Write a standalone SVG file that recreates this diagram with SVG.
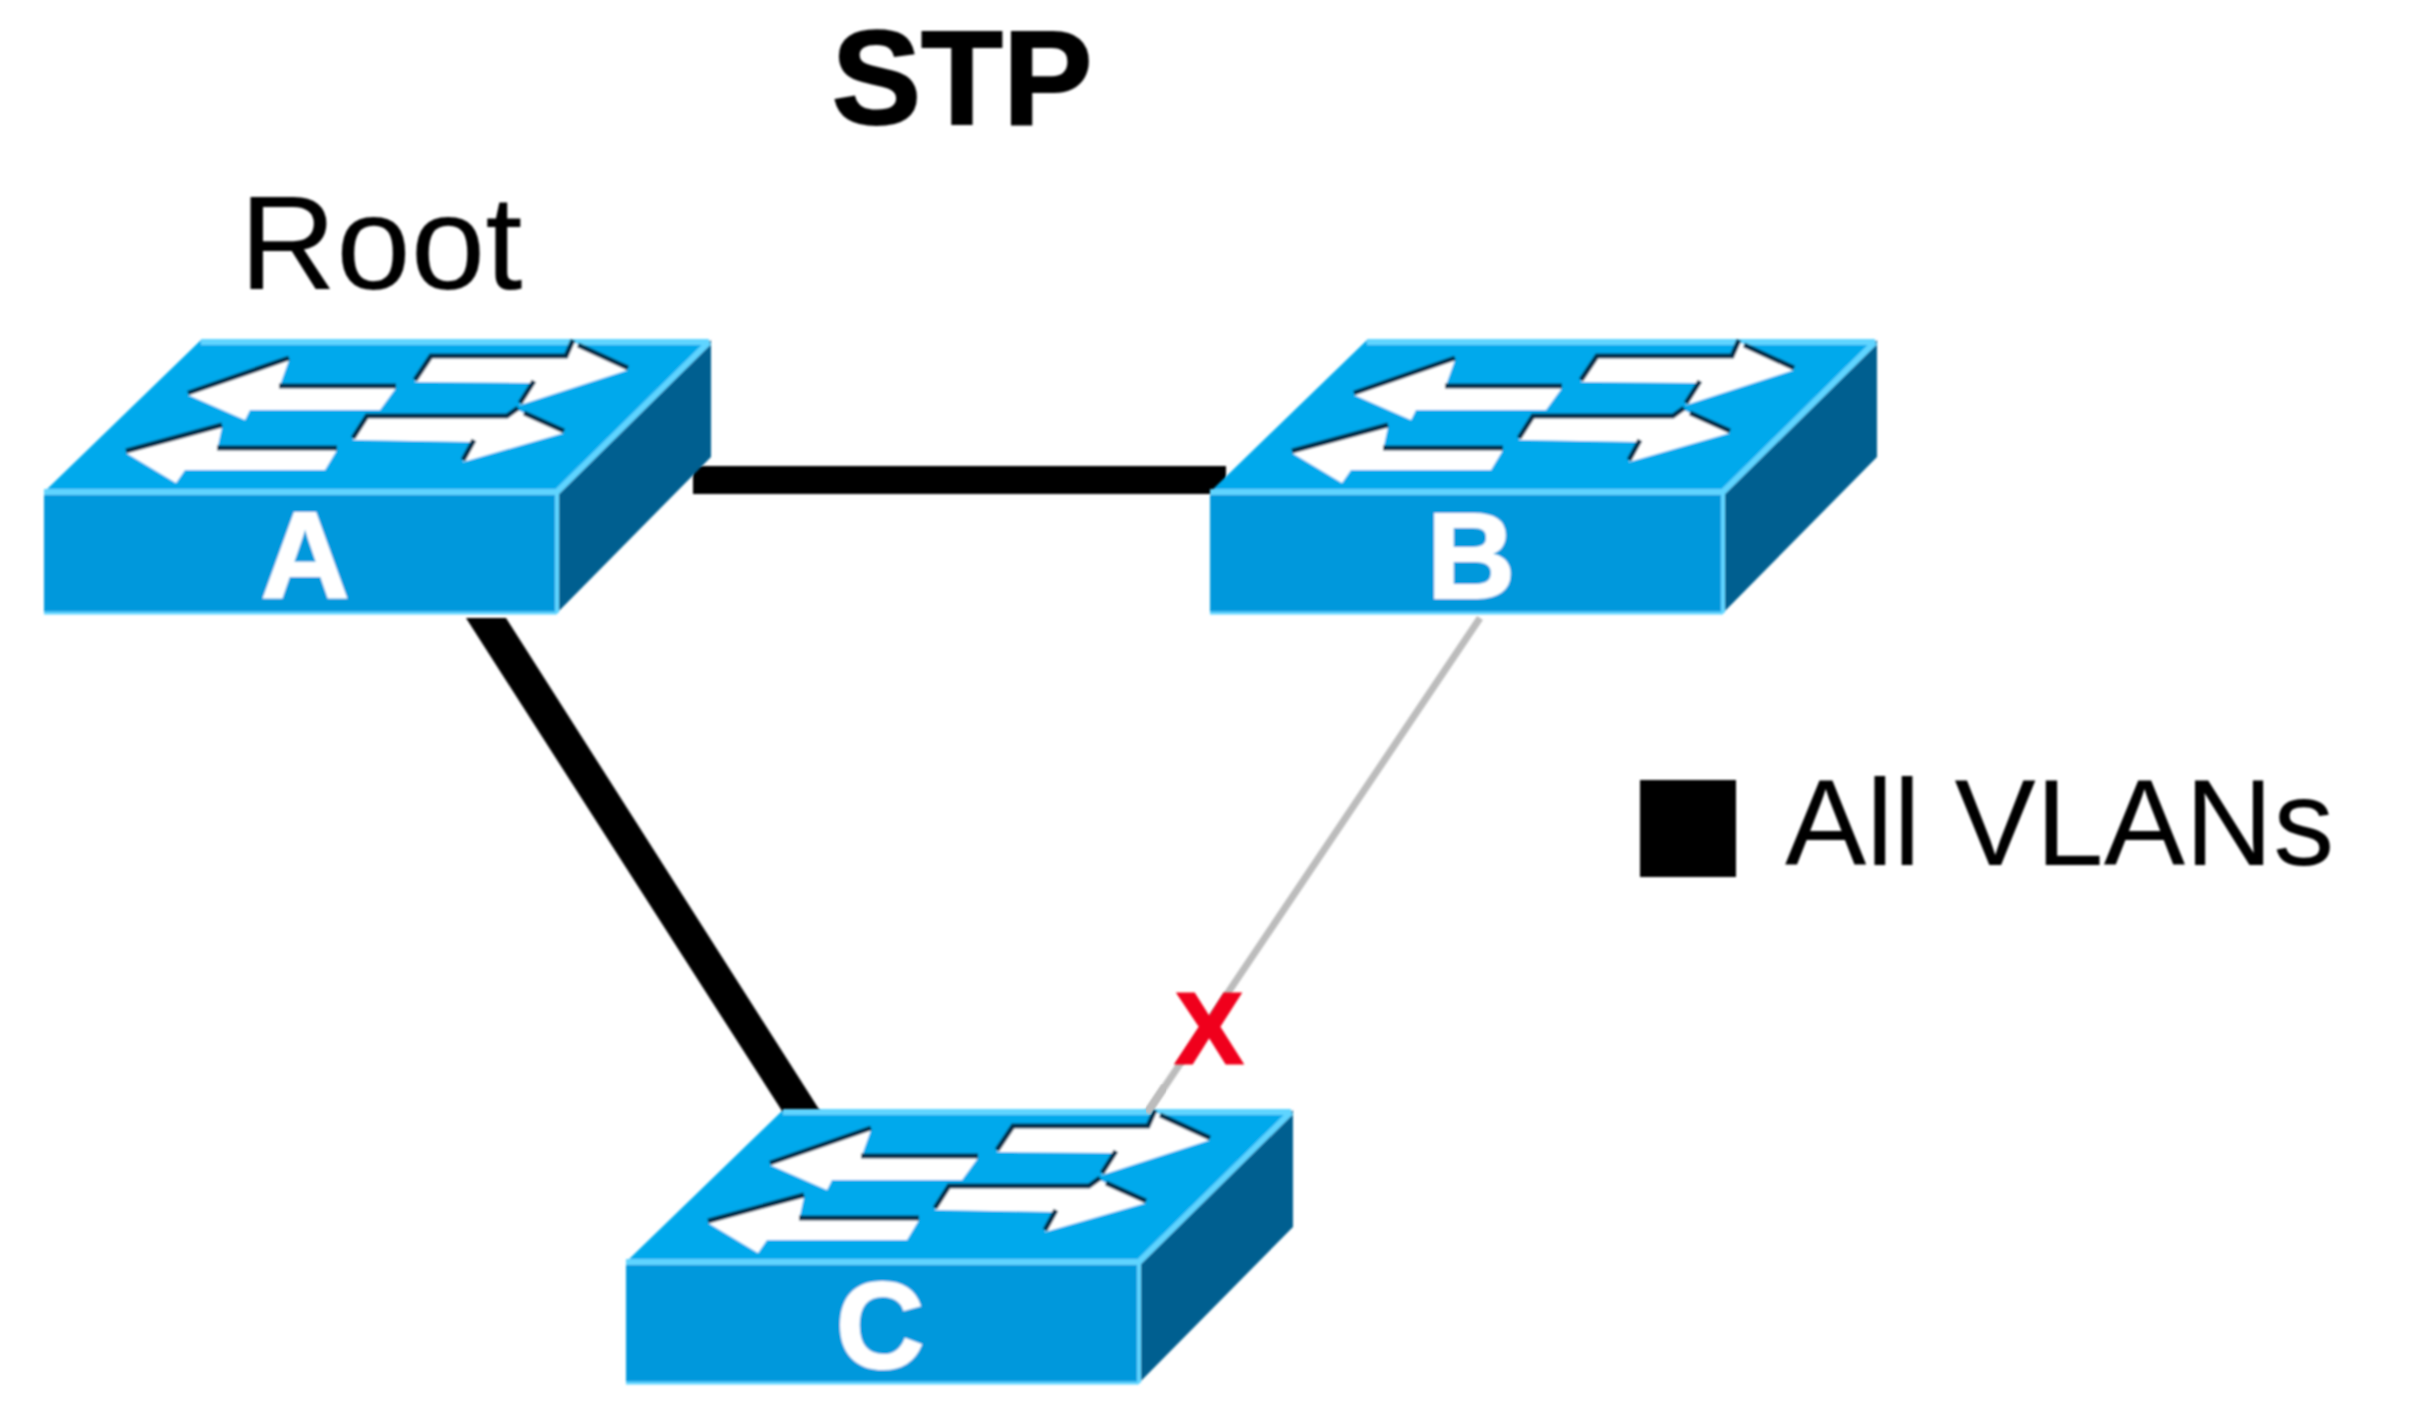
<svg xmlns="http://www.w3.org/2000/svg" width="2413" height="1402" viewBox="0 0 2413 1402">
<style>
.t{font-family:"Liberation Sans",Arial,sans-serif}
.lbl{font-family:"Liberation Sans",Arial,sans-serif;font-weight:700;font-size:122px;fill:#fff;stroke:#fff;stroke-width:2;text-anchor:middle}
.hl{fill:none;stroke:#5fd4ff;stroke-width:6}
.ar{fill:#fff}
.sh{fill:none;stroke:#04304e;stroke-width:5}
.soft{filter:url(#soft)}
</style>
<defs>
<filter id="soft" x="-5%" y="-5%" width="110%" height="110%"><feGaussianBlur stdDeviation="1.1"/></filter>
<g id="sw">
<polygon points="44,492 201,340 709,340 557,492" fill="#00a9ec"/>
<polygon points="44,492 557,492 557,613 44,613" fill="#0098dc"/>
<polygon points="557,492 711,340 711,457 557,613" fill="#005f90"/>
<polyline class="hl" points="44,492 557,492 709,342"/>
<line class="hl" x1="201" y1="342" x2="709" y2="342"/>
<line x1="557" y1="492" x2="557" y2="613" stroke="#5fd4ff" stroke-width="4"/>
<line x1="44" y1="613" x2="557" y2="613" stroke="#5fd4ff" stroke-width="3"/>
<polygon class="ar" points="188,395 289,360 279,388 396,388 380,410 250,410 245,420"/>
<polygon class="ar" points="126,453 222,427 217,450 337,450 325,470 185,470 176,483"/>
<polygon class="ar" points="431,358 566,358 573,342 628,370 520,405 534,383 415,382"/>
<polygon class="ar" points="367,418 507,418 518,410 564,433 463,462 474,442 353,440"/>
<path class="sh" d="M188,393 289,358M279,386H396M126,451 222,425M217,448H337M415,380 431,356H566L573,340M578,345 628,368M520,403 534,381M353,438 367,416H507L518,408M524,413 564,431M463,460 474,440"/>
</g>
</defs>
<rect width="2413" height="1402" fill="#fff"/>
<g id="connectors" class="soft">
<rect x="693" y="466" width="533" height="28" fill="#000"/>
<polygon points="466,618 506,618 829,1125 791,1125" fill="#000"/>
<line x1="1480" y1="618" x2="1147" y2="1113" stroke="#bcbcbc" stroke-width="7"/>
</g>
<g id="node-a" class="soft"><use href="#sw"/><text class="lbl" x="305" y="598">A</text></g>
<g id="node-b" class="soft"><use href="#sw" transform="translate(1166 0)"/><text class="lbl" x="1471" y="598">B</text></g>
<g id="node-c" class="soft"><use href="#sw" transform="translate(582 770)"/><text class="lbl" x="880" y="1368">C</text></g>
<line class="soft" x1="1165" y1="1086" x2="1147" y2="1113" stroke="#bcbcbc" stroke-width="7"/>
<text class="t soft" x="962" y="124" text-anchor="middle" font-weight="700" font-size="134" fill="#000" stroke="#000" stroke-width="2">STP</text>
<text class="t soft" x="381" y="289" text-anchor="middle" font-size="134" fill="#000">Root</text>
<text class="t soft" x="1209" y="1063" text-anchor="middle" font-weight="700" font-size="100" fill="#f0001c" stroke="#f0001c" stroke-width="3">X</text>
<g id="legend" class="soft">
<rect x="1640" y="780" width="96" height="97" fill="#000"/>
<text x="1785" y="865" class="t" font-size="122" fill="#000">All VLANs</text>
</g>
</svg>
